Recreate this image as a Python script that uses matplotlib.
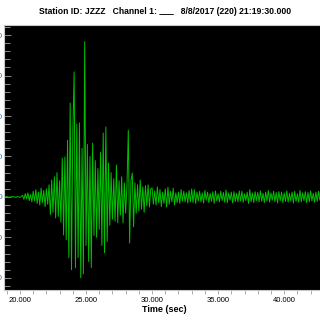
import numpy as np
import matplotlib
matplotlib.use("Agg")
import matplotlib.pyplot as plt
from matplotlib.ticker import MultipleLocator, FormatStrFormatter

plt.rcParams['font.family'] = ['Liberation Sans', 'DejaVu Sans']

# Trace: start time (sec), sample spacing (sec), amplitudes (counts)
t_start = 18.8
dt = 0.1
amplitude = [
    # 18.8 - 20.1 quiet
    0, 0, 1, 0, -1, 0, 1, 0, 0, -1, 1, 0, -1, 1,
    # 20.2 - 20.9
    4, -6, 8, -5, 10, -9, 6, -12,
    # 21.0 - 22.1
    14, -10, 18, -16, 12, -20, 22, -14, 16, -24, 20, -18,
    # 22.2 - 22.6
    30, -44, 42, -38, 50,
    # 22.7 - 23.1
    -52, 60, -48, 40, -62,
    # 23.2 - 23.9
    96, -94, 99, -106, 140, -150, 232, -180,
    # 24.0 - 24.9
    160, 309, -175, 180, -150, 183, -200, 120, -190, 384,
    # 25.0 - 25.9
    -120, 130, -160, 100, -175, 133, -95, 90, -100, 70,
    # 26.0 - 26.9
    -80, 110, -120, 158, -138, 173, -110, 84, -70, 60,
    # 27.0 - 27.9
    -55, 45, -60, 79, -64, 40, -45, 50, -64, 35,
    # 28.0 - 28.9
    -40, 30, 165, -114, 40, 59, -74, 35, -40, 30,
    # 29.0 - 29.9
    -35, 42, -30, 25, -38, 28, -22, 30, -25, 20,
    # 30.0 - 33.5
    22, -18, 15, -20, 25, -14, 18, -24, 12, -16,
    20, -25, 24, -18, 14, -12, 22, -20, 10, -14,
    12, -16, 18, -10, 14, -12, 10, -15, 16, -12,
    20, -14, 18, -16, 12, -10,
    # 33.6 - 42.8 coda
    14, -12, 10, -15, 16, -8, 12, -14, 9, -11,
    13, -16, 15, -10, 8, -12, 14, -9, 11, -13,
    17, -14, 10, -8, 12, -15, 13, -11, 9, -12,
    15, -10, 14, -13, 8, -9, 12, -16, 18, -12,
    10, -14, 13, -9, 11, -12, 15, -11, 9, -14,
    12, -10, 16, -13, 10, -8, 14, -12, 11, -15,
    13, -9, 12, -14, 10, -11, 15, -13, 9, -10,
    12, -15, 14, -11, 8, -13, 16, -12, 10, -9,
    13, -14, 11, -12, 15, -10, 9, -13, 12, -11,
    14, -8, 10,
]
time = t_start + dt * np.arange(len(amplitude))

title = "Station ID: JZZZ   Channel 1: ___   8/8/2017 (220) 21:19:30.000"

fig = plt.figure(figsize=(3.2, 3.2), dpi=100)
ax = fig.add_axes([4 / 320, 30 / 320, 333 / 320, 265 / 320])
ax.set_facecolor('black')
ax.plot(time, amplitude, color='#00c000', linewidth=0.7)

ax.set_xlim(18.79, 44.0)
ax.set_ylim(-230, 425)

ax.xaxis.set_major_locator(MultipleLocator(5))
ax.xaxis.set_minor_locator(MultipleLocator(1))
ax.xaxis.set_major_formatter(FormatStrFormatter('%.3f'))
ax.yaxis.set_major_locator(MultipleLocator(100))
ax.yaxis.set_minor_locator(MultipleLocator(20))

ax.tick_params(axis='x', which='both', direction='out', color='#a0a0a0',
               length=3, width=0.6, labelsize=5.5, pad=2)
ax.tick_params(axis='y', which='both', direction='in', color='#a0a0a0',
               width=0.6, labelsize=6, labelcolor='#3a6fc4', pad=1)
ax.tick_params(axis='y', which='major', length=5)
ax.tick_params(axis='y', which='minor', length=4)

for s in ax.spines.values():
    s.set_color('#c8c8c8')
    s.set_linewidth(0.8)

fig.text(0.515, 1 - 12 / 320, title, ha='center', va='center',
         fontsize=6.2, fontweight='bold')
fig.text(0.513, 1 - 310 / 320, "Time (sec)", ha='center', va='center',
         fontsize=6.5, fontweight='bold')

fig.savefig('out.png', dpi=100, facecolor='white')
